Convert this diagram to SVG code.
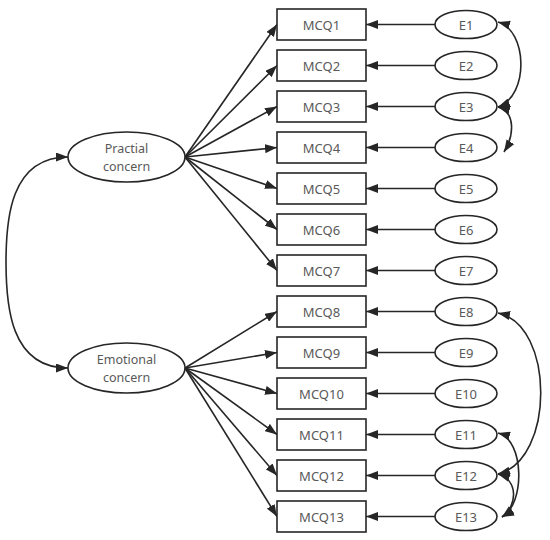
<svg xmlns="http://www.w3.org/2000/svg" width="550" height="540" viewBox="0 0 550 540">
<style>
.box{fill:#fff;stroke:#262626;stroke-width:1.6}
.ell{fill:#fff;stroke:#262626;stroke-width:1.6}
.t{font-family:"Noto Sans","Open Sans",sans-serif;font-size:13px;fill:#595959;text-anchor:middle;dominant-baseline:central}
.c path,.c line{fill:none;stroke:#262626;stroke-width:1.6}
.a{marker-end:url(#ah)}
.b{marker-start:url(#ah);marker-end:url(#ah)}
</style>
<defs>
<marker id="ah" markerUnits="userSpaceOnUse" markerWidth="12" markerHeight="9" refX="12" refY="4.5" orient="auto-start-reverse" viewBox="0 0 12 9">
<path d="M0,0 L12,4.5 L0,9 z" fill="#262626"/>
</marker>
</defs>
<rect width="550" height="540" fill="#fff"/>
<g class="c" id="connectors">
<path class="b" d="M68,157 C10,157 6,220 6,262 C6,305 10,368 68,368"/>
<line class="a" x1="185" y1="157" x2="277" y2="24.5"/>
<line class="a" x1="185" y1="157" x2="277" y2="65.5"/>
<line class="a" x1="185" y1="157" x2="277" y2="106.5"/>
<line class="a" x1="185" y1="157" x2="277" y2="147.5"/>
<line class="a" x1="185" y1="157" x2="277" y2="188.5"/>
<line class="a" x1="185" y1="157" x2="277" y2="229.5"/>
<line class="a" x1="185" y1="157" x2="277" y2="270.5"/>
<line class="a" x1="185" y1="368" x2="277" y2="311.5"/>
<line class="a" x1="185" y1="368" x2="277" y2="352.5"/>
<line class="a" x1="185" y1="368" x2="277" y2="393.5"/>
<line class="a" x1="185" y1="368" x2="277" y2="434.5"/>
<line class="a" x1="185" y1="368" x2="277" y2="475.5"/>
<line class="a" x1="185" y1="368" x2="277" y2="516.5"/>
<line class="a" x1="435" y1="24.5" x2="366" y2="24.5"/>
<line class="a" x1="435" y1="65.5" x2="366" y2="65.5"/>
<line class="a" x1="435" y1="106.5" x2="366" y2="106.5"/>
<line class="a" x1="435" y1="147.5" x2="366" y2="147.5"/>
<line class="a" x1="435" y1="188.5" x2="366" y2="188.5"/>
<line class="a" x1="435" y1="229.5" x2="366" y2="229.5"/>
<line class="a" x1="435" y1="270.5" x2="366" y2="270.5"/>
<line class="a" x1="435" y1="311.5" x2="366" y2="311.5"/>
<line class="a" x1="435" y1="352.5" x2="366" y2="352.5"/>
<line class="a" x1="435" y1="393.5" x2="366" y2="393.5"/>
<line class="a" x1="435" y1="434.5" x2="366" y2="434.5"/>
<line class="a" x1="435" y1="475.5" x2="366" y2="475.5"/>
<line class="a" x1="435" y1="516.5" x2="366" y2="516.5"/>
<path class="b" d="M498,22 C527,30 530,95 498,107"/>
<path class="b" d="M498,107 C516,112 514,136 504,152"/>
<path class="b" d="M498,313 C555,325 555,460 498,474"/>
<path class="b" d="M498,433 C525,440 525,505 502,517"/>
<path class="b" d="M498,474 C518,480 518,505 502,517"/>
</g>
<g id="practical"><ellipse class="ell" cx="126.5" cy="157" rx="58.5" ry="25"/><text class="t" x="126.5" y="148" style="font-size:12.5px">Practial</text><text class="t" x="126.5" y="166" style="font-size:12.5px">concern</text></g>
<g id="emotional"><ellipse class="ell" cx="126.5" cy="368" rx="58.5" ry="25"/><text class="t" x="126.5" y="359" style="font-size:12.5px">Emotional</text><text class="t" x="126.5" y="377" style="font-size:12.5px">concern</text></g>
<g id="mcq1"><rect class="box" x="277" y="9" width="89" height="31"/><text class="t" x="321.5" y="24.5">MCQ1</text></g>
<g id="mcq2"><rect class="box" x="277" y="50" width="89" height="31"/><text class="t" x="321.5" y="65.5">MCQ2</text></g>
<g id="mcq3"><rect class="box" x="277" y="91" width="89" height="31"/><text class="t" x="321.5" y="106.5">MCQ3</text></g>
<g id="mcq4"><rect class="box" x="277" y="132" width="89" height="31"/><text class="t" x="321.5" y="147.5">MCQ4</text></g>
<g id="mcq5"><rect class="box" x="277" y="173" width="89" height="31"/><text class="t" x="321.5" y="188.5">MCQ5</text></g>
<g id="mcq6"><rect class="box" x="277" y="214" width="89" height="31"/><text class="t" x="321.5" y="229.5">MCQ6</text></g>
<g id="mcq7"><rect class="box" x="277" y="255" width="89" height="31"/><text class="t" x="321.5" y="270.5">MCQ7</text></g>
<g id="mcq8"><rect class="box" x="277" y="296" width="89" height="31"/><text class="t" x="321.5" y="311.5">MCQ8</text></g>
<g id="mcq9"><rect class="box" x="277" y="337" width="89" height="31"/><text class="t" x="321.5" y="352.5">MCQ9</text></g>
<g id="mcq10"><rect class="box" x="277" y="378" width="89" height="31"/><text class="t" x="321.5" y="393.5">MCQ10</text></g>
<g id="mcq11"><rect class="box" x="277" y="419" width="89" height="31"/><text class="t" x="321.5" y="434.5">MCQ11</text></g>
<g id="mcq12"><rect class="box" x="277" y="460" width="89" height="31"/><text class="t" x="321.5" y="475.5">MCQ12</text></g>
<g id="mcq13"><rect class="box" x="277" y="501" width="89" height="31"/><text class="t" x="321.5" y="516.5">MCQ13</text></g>
<g id="e1"><ellipse class="ell" cx="466" cy="24.5" rx="31" ry="14"/><text class="t" x="466" y="24.5">E1</text></g>
<g id="e2"><ellipse class="ell" cx="466" cy="65.5" rx="31" ry="14"/><text class="t" x="466" y="65.5">E2</text></g>
<g id="e3"><ellipse class="ell" cx="466" cy="106.5" rx="31" ry="14"/><text class="t" x="466" y="106.5">E3</text></g>
<g id="e4"><ellipse class="ell" cx="466" cy="147.5" rx="31" ry="14"/><text class="t" x="466" y="147.5">E4</text></g>
<g id="e5"><ellipse class="ell" cx="466" cy="188.5" rx="31" ry="14"/><text class="t" x="466" y="188.5">E5</text></g>
<g id="e6"><ellipse class="ell" cx="466" cy="229.5" rx="31" ry="14"/><text class="t" x="466" y="229.5">E6</text></g>
<g id="e7"><ellipse class="ell" cx="466" cy="270.5" rx="31" ry="14"/><text class="t" x="466" y="270.5">E7</text></g>
<g id="e8"><ellipse class="ell" cx="466" cy="311.5" rx="31" ry="14"/><text class="t" x="466" y="311.5">E8</text></g>
<g id="e9"><ellipse class="ell" cx="466" cy="352.5" rx="31" ry="14"/><text class="t" x="466" y="352.5">E9</text></g>
<g id="e10"><ellipse class="ell" cx="466" cy="393.5" rx="31" ry="14"/><text class="t" x="466" y="393.5">E10</text></g>
<g id="e11"><ellipse class="ell" cx="466" cy="434.5" rx="31" ry="14"/><text class="t" x="466" y="434.5">E11</text></g>
<g id="e12"><ellipse class="ell" cx="466" cy="475.5" rx="31" ry="14"/><text class="t" x="466" y="475.5">E12</text></g>
<g id="e13"><ellipse class="ell" cx="466" cy="516.5" rx="31" ry="14"/><text class="t" x="466" y="516.5">E13</text></g>
</svg>
